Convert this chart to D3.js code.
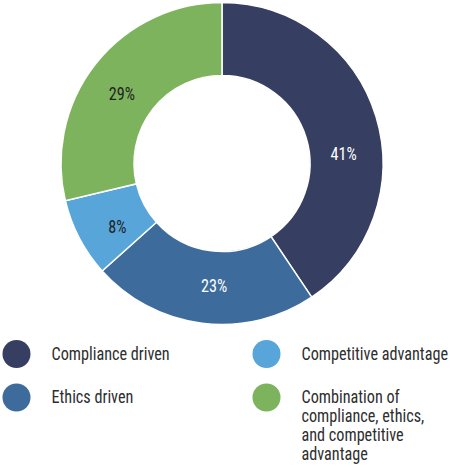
<!DOCTYPE html>
<html>
<head>
<meta charset="utf-8">
<script src="https://cdn.jsdelivr.net/npm/d3@7"></script>
<style>
html,body{margin:0;padding:0;background:#fff;}
svg{display:block;}
text{font-family:"Roboto Condensed","Roboto",sans-serif;}
</style>
</head>
<body>
<svg id="chart" width="450" height="467"></svg>
<script>
const categories = ["Compliance driven", "Ethics driven", "Competitive advantage", "Combination of compliance, ethics, and competitive advantage"];
const values = [41, 23, 8, 29];
const colors = ["#363e62", "#3d6b9c", "#58a5da", "#7db35d"];
const labelColors = ["#ffffff", "#ffffff", "#222222", "#222222"];
const legendLines = [["Compliance driven"], ["Ethics driven"], ["Competitive advantage"], ["Combination of", "compliance, ethics,", "and competitive", "advantage"]];

const svg = d3.select("#chart");
const cx = 222, cy = 163.5, outerR = 161, innerR = 88, labelR = 122;
const sx = 0.9; // horizontal condensing to mimic condensed face

const data = categories.map((c, i) => ({cat: c, value: values[i], color: colors[i], lc: labelColors[i]}));
const pie = d3.pie().value(d => d.value).sort(null);
const arc = d3.arc().innerRadius(innerR).outerRadius(outerR);

const g = svg.append("g").attr("transform", `translate(${cx},${cy})`);
const arcs = pie(data);
g.selectAll("path").data(arcs).join("path")
  .attr("d", arc)
  .attr("fill", d => d.data.color)
  .attr("stroke", "#fff")
  .attr("stroke-width", 1.5);

// label angle: slice mid-angle, the largest slice's label sits lower toward the middle
const labelAngle = d => {
  const mid = (d.startAngle + d.endAngle) / 2;
  return d.index === 0 ? mid + 0.217 : mid - 0.06;
};
g.selectAll("text.lbl").data(arcs).join("text")
  .attr("class", "lbl")
  .attr("transform", d => {
    const a = labelAngle(d);
    return `translate(${labelR * Math.sin(a)},${-labelR * Math.cos(a)}) scale(${sx},1)`;
  })
  .attr("text-anchor", "middle")
  .attr("dy", "0.35em")
  .attr("font-size", 18)
  .attr("fill", d => d.data.lc)
  .text(d => d.data.value + "%");

// legend
const legend = svg.append("g");
const pos = [[16.5, 354], [16.5, 397.5], [266.5, 354], [266.5, 397.5]];
const item = legend.selectAll("g").data(data).join("g")
  .attr("transform", (d, i) => `translate(${pos[i][0]},${pos[i][1]})`);
item.append("circle").attr("r", 14).attr("fill", d => d.color);
item.each(function(d, i) {
  const t = d3.select(this).append("text")
    .attr("transform", `translate(35,5.5) scale(${sx},1)`)
    .attr("font-size", 18)
    .attr("fill", "#2e2e2e");
  legendLines[i].forEach((ln, j) => {
    t.append("tspan").attr("x", 0).attr("dy", j === 0 ? 0 : 19).text(ln);
  });
});
</script>
</body>
</html>
